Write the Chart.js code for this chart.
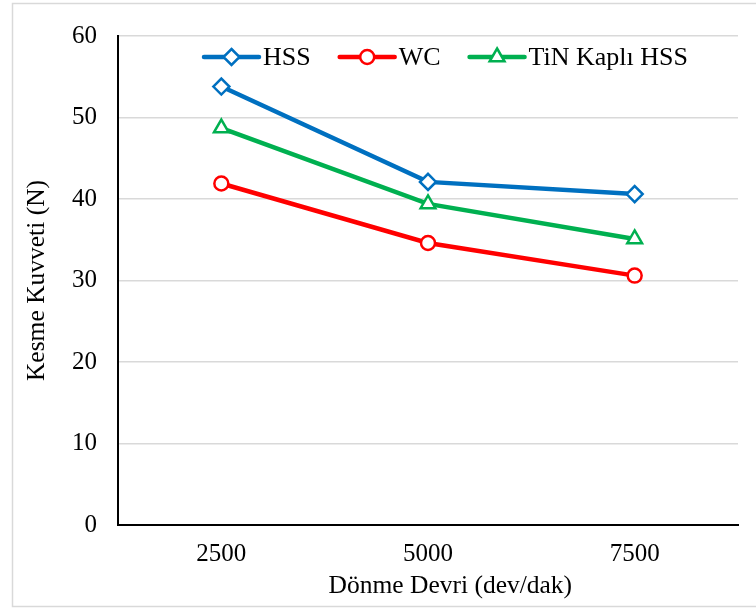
<!DOCTYPE html>
<html>
<head>
<meta charset="utf-8">
<script src="https://cdn.jsdelivr.net/npm/chart.js@4/dist/chart.umd.min.js"></script>
<style>
  html, body { margin: 0; padding: 0; background: #ffffff; }
  #wrap { width: 756px; height: 608px; position: relative; }
</style>
</head>
<body>
<div id="wrap"><canvas id="c" width="756" height="608"></canvas></div>
<script>
// ---- data ----
const categories = ['2500', '5000', '7500'];
const seriesNames = ['HSS', 'WC', 'TiN Kaplı HSS'];
const hssValues = [53.8, 42.1, 40.6];
const wcValues = [41.9, 34.6, 30.6];
const tinValues = [48.7, 39.4, 35.1];
const yMin = 0, yMax = 60, yStep = 10;
const xTitle = 'Dönme Devri (dev/dak)';
const yTitle = 'Kesme Kuvveti (N)';

const colors = ['#0070C0', '#FF0000', '#00B050'];
const styles = ['rectRot', 'circle', 'triangle'];
const radii = [8, 7, 8.5];
const FONT = '"Liberation Serif", "Times New Roman", serif';

const datasets = [hssValues, wcValues, tinValues].map((vals, i) => ({
  label: seriesNames[i],
  data: vals,
  borderColor: colors[i],
  backgroundColor: '#ffffff',
  borderWidth: 4.5,
  pointStyle: styles[i],
  pointRadius: radii[i],
  pointBorderWidth: 2.5,
  pointBackgroundColor: '#ffffff',
  pointBorderColor: colors[i],
  tension: 0,
  fill: false
}));

const frame = {
  id: 'frame',
  beforeDraw(chart) {
    const ctx = chart.ctx;
    ctx.save();
    ctx.fillStyle = '#ffffff';
    ctx.fillRect(0, 0, chart.width, chart.height);
    ctx.strokeStyle = '#d9d9d9';
    ctx.lineWidth = 1.5;
    ctx.strokeRect(12.5, 3.5, chart.width + 10, chart.height - 5);
    ctx.restore();
  }
};

function drawMarkerPath(ctx, style, r, cx, cy) {
  if (style === 'circle') {
    ctx.arc(cx, cy, r, 0, Math.PI * 2);
  } else if (style === 'rectRot') {
    ctx.moveTo(cx, cy - r); ctx.lineTo(cx + r, cy); ctx.lineTo(cx, cy + r); ctx.lineTo(cx - r, cy); ctx.closePath();
  } else {
    ctx.moveTo(cx, cy - r); ctx.lineTo(cx + r * 0.87, cy + r * 0.5); ctx.lineTo(cx - r * 0.87, cy + r * 0.5); ctx.closePath();
  }
}

const legendPlugin = {
  id: 'customLegend',
  afterDatasetsDraw(chart) {
    const ctx = chart.ctx;
    ctx.save();
    ctx.font = '26px ' + FONT;
    ctx.textBaseline = 'middle';
    let x = 204;
    const y = 57;
    chart.data.datasets.forEach((ds) => {
      ctx.strokeStyle = ds.borderColor;
      ctx.lineWidth = 4.5;
      ctx.lineCap = 'round';
      ctx.beginPath();
      ctx.moveTo(x, y);
      ctx.lineTo(x + 55, y);
      ctx.stroke();
      ctx.fillStyle = '#ffffff';
      ctx.lineWidth = 2.5;
      ctx.beginPath();
      drawMarkerPath(ctx, ds.pointStyle, ds.pointRadius, x + 27.5, y);
      ctx.fill();
      ctx.stroke();
      ctx.fillStyle = '#000000';
      ctx.fillText(ds.label, x + 59, y + 1);
      x += 59 + ctx.measureText(ds.label).width + 29;
    });
    ctx.restore();
  }
};

new Chart(document.getElementById('c'), {
  type: 'line',
  data: { labels: categories, datasets },
  plugins: [frame, legendPlugin],
  options: {
    responsive: false,
    animation: false,
    devicePixelRatio: 1,
    layout: { padding: { left: 0, right: 18, top: 36, bottom: 0 } },
    plugins: { legend: { display: false }, tooltip: { enabled: false } },
    scales: {
      x: {
        offset: true,
        grid: { display: false, drawTicks: false },
        border: { display: true, color: '#000000', width: 2 },
        ticks: { color: '#000000', font: { family: FONT, size: 25 }, padding: 14, maxRotation: 0 },
        title: { display: true, text: '       ' + xTitle, color: '#000000', font: { family: FONT, size: 25.5 }, padding: { top: 0, bottom: 6 } },
        afterFit(scale) { scale.height = 83; }
      },
      y: {
        min: yMin, max: yMax,
        grid: { color: '#d9d9d9', lineWidth: 1.5, drawTicks: false },
        border: { display: true, color: '#000000', width: 2 },
        ticks: { stepSize: yStep, color: '#000000', font: { family: FONT, size: 25 }, padding: 21 },
        title: { display: true, text: yTitle, color: '#000000', font: { family: FONT, size: 25.5 }, padding: { top: 22, bottom: 0 } },
        afterFit(scale) { scale.width = 118; }
      }
    }
  }
});
</script>
</body>
</html>
